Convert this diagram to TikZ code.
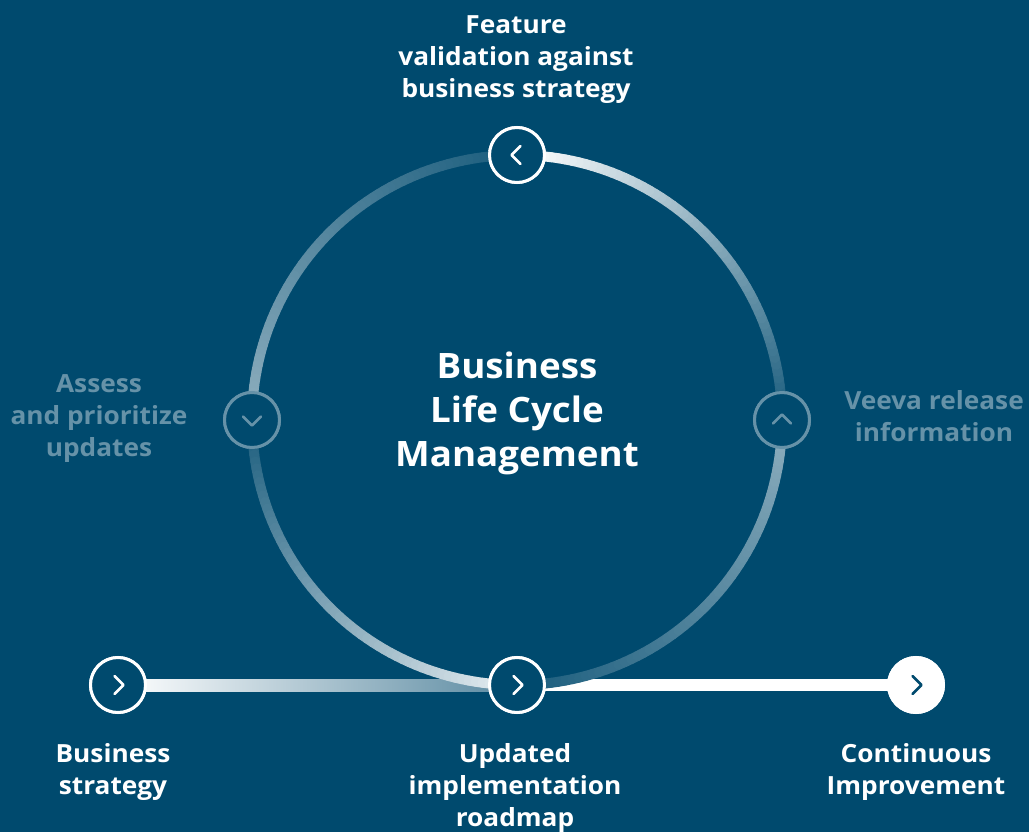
\documentclass[tikz,border=0pt]{standalone}
\usepackage{fontspec}
\setmainfont[FakeStretch=1.05]{Open Sans}
\usepackage{tikz}
\usetikzlibrary{calc}

\definecolor{bgblue}{RGB}{0,74,110}
\colorlet{fadeblue}{white!40!bgblue}

\begin{document}
\begin{tikzpicture}[x=1pt,y=-1pt,
    step node/.style={circle, draw=white, fill=bgblue, line width=3pt, minimum size=55pt, inner sep=0pt},
    faded node/.style={step node, draw=fadeblue},
    end node/.style={step node, fill=white},
    chev/.style={line width=2.8pt, line cap=round, line join=round, draw=white},
    ring/.style={line width=10pt, line cap=round},
    label/.style={align=center, anchor=north, inner sep=0pt, text=white, font=\fontsize{25}{32}\selectfont\bfseries},
    title/.style={label, font=\fontsize{35}{44}\selectfont\bfseries}]

            % background
            \useasboundingbox (0,0) rectangle (1029,832);
            \fill[bgblue] (0,0) rectangle (1029,832);

            % step nodes
            \coordinate (hub) at (517,420);
            \node[step node] (feature) at (517,155) {};
            \node[faded node] (assess) at (252,420) {};
            \node[faded node] (veeva) at (782,420) {};
            \node[step node] (roadmap) at (517,685) {};
            \node[step node] (strategy) at (118,685) {};
            \node[end node] (improve) at (916,685) {};

            % straight track
            \shade[left color=white, right color=white!35!bgblue]
                ([yshift=6pt]strategy.center) rectangle ([yshift=-6pt]roadmap.center);
            \draw[line width=12pt, white] (roadmap.center) -- (improve.center);

            % the cycle, one quarter at a time (faint -> bright)
            \foreach \s/\pmax in {270/55, 0/100, 90/55, 180/90} {
                \foreach \i in {0,...,59} {
                    \pgfmathsetmacro\aa{\s+1.5*\i}
                    \pgfmathsetmacro\bb{\s+1.5*\i+1.5}
                    \pgfmathsetmacro\pp{10+(\pmax-10)*\i/59}
                    \draw[ring, draw=white!\pp!bgblue]
                        ($(hub)+({265*cos(\aa)},{-265*sin(\aa)})$) --
                        ($(hub)+({265*cos(\bb)},{-265*sin(\bb)})$);
                }
            }

            % redraw circles on top
            \node[step node] at (feature) {};
            \node[faded node] at (assess) {};
            \node[faded node] at (veeva) {};
            \node[step node] at (roadmap) {};
            \node[step node] at (strategy) {};
            \node[end node] at (improve) {};

            % chevrons
            \draw[chev] ([shift={(3.5,-9)}]feature.center) -- ([shift={(-5.5,0)}]feature.center) -- ([shift={(3.5,9)}]feature.center);
            \draw[chev, draw=fadeblue] ([shift={(-9,-3.5)}]assess.center) -- ([shift={(0,5.5)}]assess.center) -- ([shift={(9,-3.5)}]assess.center);
            \draw[chev, draw=fadeblue] ([shift={(-9,3.5)}]veeva.center) -- ([shift={(0,-5.5)}]veeva.center) -- ([shift={(9,3.5)}]veeva.center);
            \draw[chev] ([shift={(-3.5,-9)}]roadmap.center) -- ([shift={(5.5,0)}]roadmap.center) -- ([shift={(-3.5,9)}]roadmap.center);
            \draw[chev] ([shift={(-3.5,-9)}]strategy.center) -- ([shift={(5.5,0)}]strategy.center) -- ([shift={(-3.5,9)}]strategy.center);
            \draw[chev, draw=bgblue] ([shift={(-3.5,-9)}]improve.center) -- ([shift={(5.5,0)}]improve.center) -- ([shift={(-3.5,9)}]improve.center);

            % texts
            \node[title] (hubtext) at (517,352) {Business\\Life Cycle\\Management};
            \node[label] (featuretext) at (516,15) {Feature\\validation against\\business strategy};
            \node[label, text=fadeblue] (assesstext) at (99,374) {Assess\\and prioritize\\updates};
            \node[label, text=fadeblue] (veevatext) at (934,390) {Veeva release\\information};
            \node[label] (strategytext) at (113,743) {Business\\strategy};
            \node[label] (roadmaptext) at (515,743) {Updated\\implementation\\roadmap};
            \node[label] (improvetext) at (916,743) {Continuous\\Improvement};

        \end{tikzpicture}
\end{document}
